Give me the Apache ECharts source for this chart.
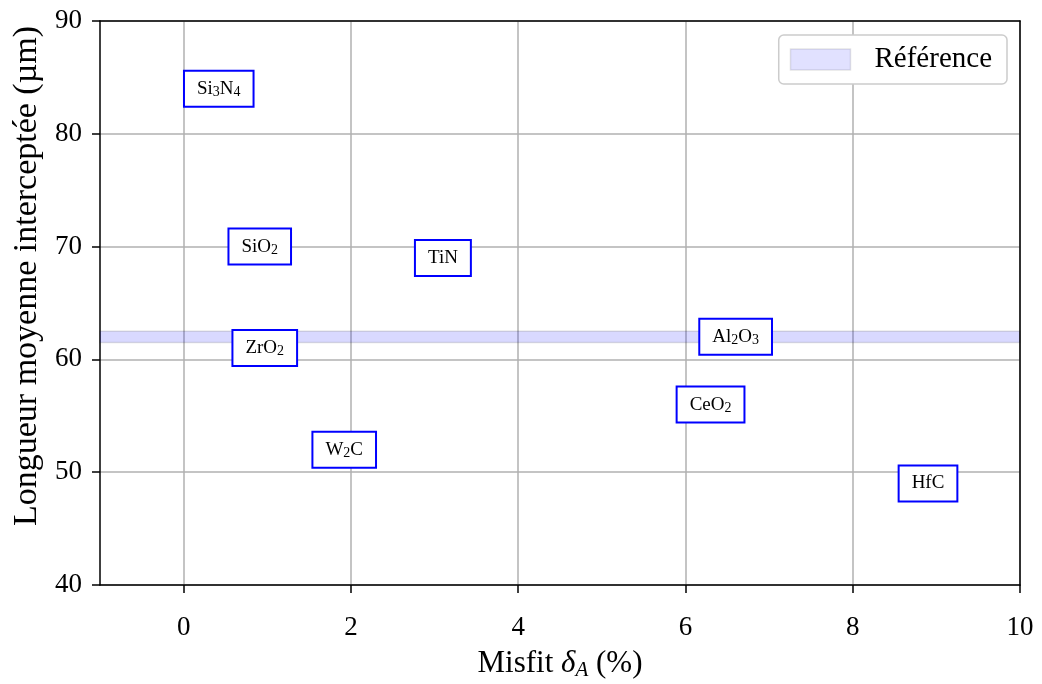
<!DOCTYPE html>
<html><head><meta charset="utf-8">
<script src="https://cdn.jsdelivr.net/npm/echarts@6/dist/echarts.min.js"></script>
<style>html,body{margin:0;padding:0;background:#fff}#c{width:1042px;height:684px}</style>
</head><body><div id="c"></div>
<script>
const materials = ['Si3N4', 'SiO2', 'ZrO2', 'TiN', 'W2C', 'Al2O3', 'CeO2', 'HfC'];
const misfit = [0.42, 0.91, 0.97, 3.1, 1.92, 6.6, 6.3, 8.9];
const grainSize = [84, 70, 61, 69, 52, 62, 56, 49];
const referenceBand = [61.5, 62.5];
const xTicks = [0, 2, 4, 6, 8, 10];
const yTicks = [40, 50, 60, 70, 80, 90];
const referenceName = 'Référence';

const FONT = 'Liberation Serif';

function chem(name) {
  return name.match(/[A-Za-z]+|\d+/g)
    .map(t => /\d/.test(t) ? '{s|' + t + '}' : '{n|' + t + '}').join('');
}

const chart = echarts.init(document.getElementById('c'), null, {renderer: 'canvas'});
const axisColor = '#000';
const frameAxis = {
  axisLine: {show: true, onZero: false, lineStyle: {color: '#000', width: 1.5}},
  axisTick: {show: false}, axisLabel: {show: false}, splitLine: {show: false}, z: 10
};
chart.setOption({
  animation: false,
  backgroundColor: '#fff',
  grid: {left: 100, right: 22, top: 21, bottom: 99, outerBoundsMode: 'none', containLabel: false},
  legend: {
    right: 35, top: 35,
    icon: 'rect', itemWidth: 60, itemHeight: 21,
    padding: [10, 15, 10, 11],
    backgroundColor: '#fff', borderColor: '#cccccc', borderWidth: 1.5, borderRadius: 5,
    textStyle: {fontSize: 29, fontFamily: FONT, color: '#000', padding: [0, 0, 0, 19]},
    data: [{name: referenceName, itemStyle: {color: 'rgba(0,0,255,0.15)', borderColor: 'rgba(0,0,0,0.13)', borderWidth: 1.5}}]
  },
  xAxis: [{
    type: 'value', min: -1, max: 10,
    axisLine: {show: true, onZero: false, lineStyle: {color: axisColor, width: 1.5}},
    axisTick: {show: true, length: 8, lineStyle: {color: axisColor, width: 1.5}, customValues: xTicks},
    axisLabel: {customValues: xTicks, fontSize: 27, fontFamily: FONT, color: '#000', margin: 29},
    splitLine: {show: true, lineStyle: {color: '#b0b0b0', width: 1.5}},
    name: '{n|Misfit }{i|δ}{a|A}{n| (%)}',
    nameLocation: 'middle', nameGap: 62,
    nameTextStyle: {
      rich: {
        n: {fontSize: 31, fontFamily: FONT, color: '#000', lineHeight: 34},
        i: {fontSize: 31, fontFamily: FONT, fontStyle: 'italic', color: '#000', lineHeight: 34},
        a: {fontSize: 21, fontFamily: FONT, fontStyle: 'italic', color: '#000', lineHeight: 34, padding: [12, 0, 0, 0]}
      }
    }
  }, Object.assign({type: 'value', min: -1, max: 10, position: 'top'}, frameAxis)],
  yAxis: [{
    type: 'value', min: 40, max: 90, interval: 10,
    axisLine: {show: true, onZero: false, lineStyle: {color: axisColor, width: 1.5}},
    axisTick: {show: true, length: 8, lineStyle: {color: axisColor, width: 1.5}},
    axisLabel: {fontSize: 27, fontFamily: FONT, color: '#000', margin: 18},
    splitLine: {show: true, lineStyle: {color: '#b0b0b0', width: 1.5}},
    name: 'Longueur moyenne interceptée (µm)',
    nameLocation: 'middle', nameRotate: 90, nameGap: 56,
    nameTextStyle: {fontSize: 34, fontFamily: FONT, color: '#000', padding: [0, 0, 0, 54]}
  }, Object.assign({type: 'value', min: 40, max: 90, interval: 10, position: 'right'}, frameAxis)],
  series: [
    {
      name: referenceName, type: 'scatter', data: [],
      itemStyle: {color: 'rgba(0,0,255,0.15)'},
      markArea: {
        silent: true,
        itemStyle: {color: 'rgba(0,0,255,0.15)', borderColor: 'rgba(0,0,0,0.12)', borderWidth: 1.5},
        data: [[{yAxis: referenceBand[0]}, {yAxis: referenceBand[1]}]]
      }
    },
    {
      name: 'materials', type: 'scatter', z: 5,
      symbolSize: 0,
      itemStyle: {color: 'transparent', opacity: 1},
      data: materials.map((m, i) => [misfit[i], grainSize[i], m]),
      label: {
        show: true, position: [0, 0], align: 'center', verticalAlign: 'middle',
        formatter: p => chem(p.data[2]),
        color: '#000', opacity: 1,
        backgroundColor: '#fff', borderColor: '#0000ff', borderWidth: 2,
        padding: [9, 12, 9, 12],
        rich: {
          n: {fontSize: 19, fontFamily: FONT, color: '#000', lineHeight: 16},
          s: {fontSize: 14, fontFamily: FONT, color: '#000', lineHeight: 16, padding: [7, 0, 0, 0]}
        }
      }
    }
  ]
});
</script></body></html>
